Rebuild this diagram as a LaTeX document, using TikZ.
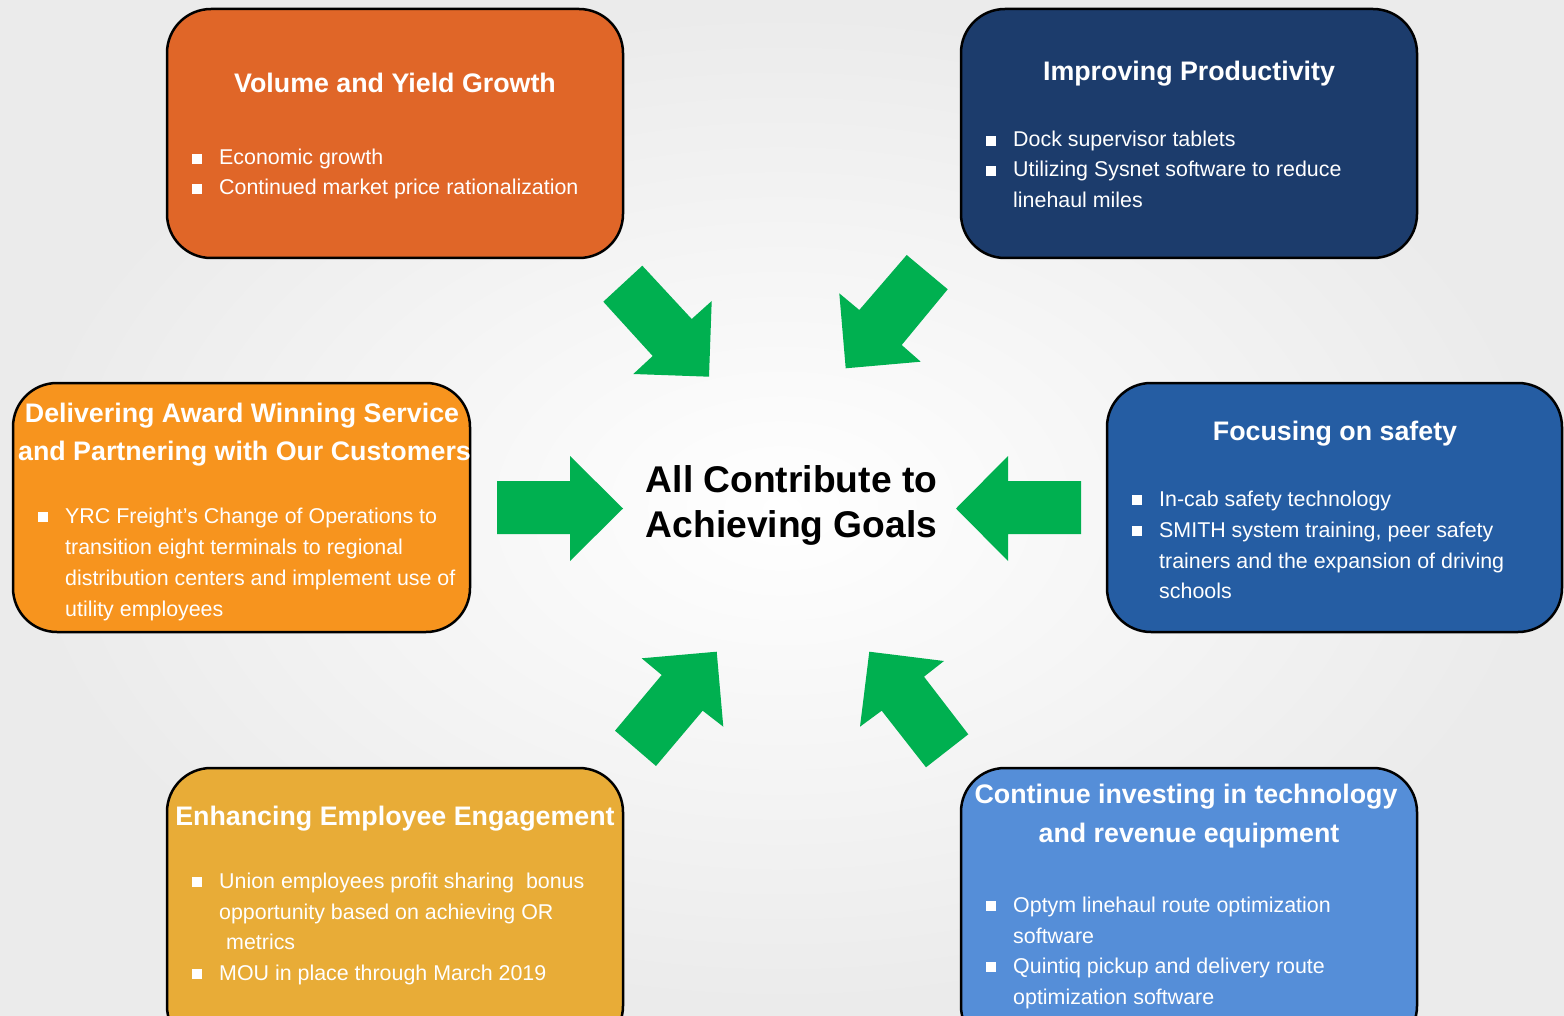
\documentclass[tikz,border=0pt]{standalone}
\usepackage{fontspec}
\setmainfont{Liberation Sans}
\definecolor{cOrangeA}{HTML}{E06628}
\definecolor{cNavy}{HTML}{1C3C6C}
\definecolor{cOrangeB}{HTML}{F7941E}
\definecolor{cBlue}{HTML}{255DA3}
\definecolor{cGold}{HTML}{E8AC37}
\definecolor{cLightBlue}{HTML}{558ED8}
\definecolor{cGreen}{HTML}{00B050}
\tikzset{
  goalbox/.style={draw=black, line width=2.5pt, rounded corners=44pt, inner sep=0pt, minimum width=456pt},
  titletxt/.style={anchor=base, inner sep=0pt, text=white, font=\fontsize{26.8}{30}\selectfont\bfseries},
  bodytxt/.style={anchor=base west, inner sep=0pt, text=white, font=\fontsize{21.4}{25}\selectfont},
  bulsq/.style={fill=white, inner sep=0pt, minimum size=10pt, draw=none},
  centertxt/.style={anchor=base, inner sep=0pt, text=black, font=\fontsize{37.2}{44}\selectfont\bfseries},
  greenarrow/.style={fill=cGreen, draw=none}
}
\newcommand\mybul[4]{%
  \node[bulsq] (#1b) at (#2+5,#3-6) {};
  \node[bodytxt] (#1) at (#2+27,#3) {#4};}
\newcommand\mycont[4]{%
  \node[bodytxt] (#1) at (#2+27,#3) {#4};}
\begin{document}
\begin{tikzpicture}[x=1pt,y=-1pt]
\useasboundingbox (0,0) rectangle (1564,1016);
\shade[inner color=white, outer color=black!8] (0,0) rectangle (1564,1016);

% boxes
\node[goalbox, fill=cOrangeA, minimum height=249pt] (b1) at (395,133.5) {};
\node[goalbox, fill=cNavy, minimum height=249pt] (b2) at (1189,133.5) {};
\node[goalbox, fill=cOrangeB, minimum height=249pt, minimum width=457pt] (b3) at (241.5,507.5) {};
\node[goalbox, fill=cBlue, minimum height=249pt, minimum width=455pt] (b4) at (1334.5,507.5) {};
\node[goalbox, fill=cGold, minimum height=282pt] (b5) at (395,909) {};
\node[goalbox, fill=cLightBlue, minimum height=282pt] (b6) at (1189,909) {};

% box 1
\node[titletxt] (t1) at (395,93) {Volume and Yield Growth};
\mybul{p11}{192}{165}{Economic growth}
\mybul{p12}{192}{195}{Continued market price rationalization}

% box 2
\node[titletxt] (t2) at (1189,81) {Improving Productivity};
\mybul{p21}{986}{147}{Dock supervisor tablets}
\mybul{p22}{986}{177}{Utilizing Sysnet software to reduce}
\mycont{p23}{986}{208}{linehaul miles}

% box 3
\node[titletxt] (t3a) at (242,422) {Delivering Award Winning Service};
\node[titletxt] (t3b) at (244.5,460) {and Partnering with Our Customers};
\mybul{p31}{38}{523}{YRC Freight’s Change of Operations to}
\mycont{p32}{38}{554}{transition eight terminals to regional}
\mycont{p33}{38}{585}{distribution centers and implement use of}
\mycont{p34}{38}{616}{utility employees}

% box 4
\node[titletxt] (t4) at (1335,440) {Focusing on safety};
\mybul{p41}{1132}{506}{In-cab safety technology}
\mybul{p42}{1132}{537}{SMITH system training, peer safety}
\mycont{p43}{1132}{568}{trainers and the expansion of driving}
\mycont{p44}{1132}{598}{schools}

% box 5
\node[titletxt] (t5) at (395,825) {Enhancing Employee Engagement};
\mybul{p51}{192}{888}{Union employees profit sharing\ \ bonus}
\mycont{p52}{192}{919}{opportunity based on achieving OR}
\mycont{p53}{199}{949}{metrics}
\mybul{p54}{192}{980}{MOU in place through March 2019}

% box 6
\node[titletxt] (t6a) at (1186,803) {Continue investing in technology};
\node[titletxt] (t6b) at (1189,842) {and revenue equipment};
\mybul{p61}{986}{912}{Optym linehaul route optimization}
\mycont{p62}{986}{943}{software}
\mybul{p63}{986}{973}{Quintiq pickup and delivery route}
\mycont{p64}{986}{1004}{optimization software}

% centre
\node[centertxt] (c1) at (791.5,492) {All Contribute to};
\node[centertxt] (c2) at (791.5,537) {Achieving Goals};

% block arrows
\fill[greenarrow] (497,481) -- (570,481) -- (570,456) -- (623,508.5) -- (570,561) -- (570,534) -- (497,534) -- cycle;
\fill[greenarrow] (1081,481) -- (1008,481) -- (1008,456) -- (956,508.5) -- (1008,561) -- (1008,534) -- (1081,534) -- cycle;
\fill[greenarrow] (603.3,301.7) -- (642.3,265.7) -- (691.7,319) -- (711.7,301) -- (709,376.7) -- (633.3,374) -- (652.7,356) -- cycle;
\fill[greenarrow] (906.7,255) -- (947.7,289.3) -- (901.7,345) -- (920.7,361.7) -- (845.7,368.3) -- (839.3,293.3) -- (859.3,310) -- cycle;
\fill[greenarrow] (615,730.7) -- (661.7,675) -- (641.7,658.3) -- (716.7,651.7) -- (723.3,726.7) -- (702.7,710.7) -- (656,766) -- cycle;
\fill[greenarrow] (968.3,734.3) -- (924,676.7) -- (944,661) -- (869.3,651.7) -- (860,726.7) -- (881.7,710.7) -- (926,767.3) -- cycle;
\end{tikzpicture}
\end{document}
